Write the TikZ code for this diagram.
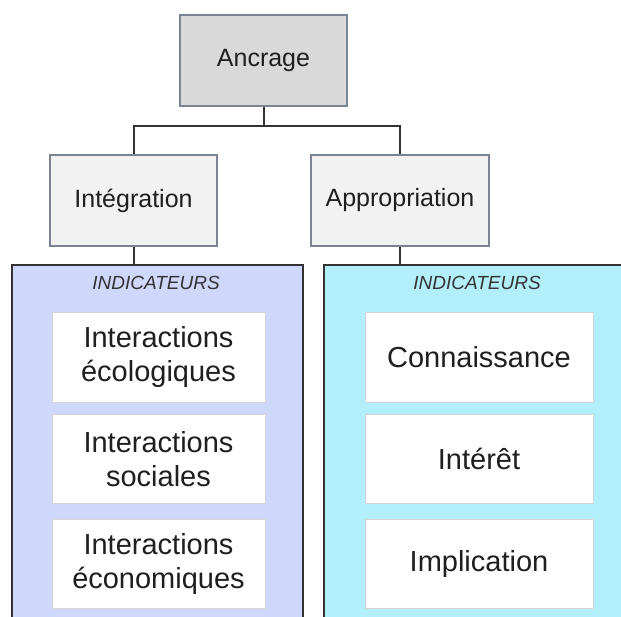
\documentclass[tikz,border=0pt]{standalone}
\usepackage{fontspec}
\setmainfont{Liberation Sans}
\definecolor{topfill}{HTML}{D9D9D9}
\definecolor{midfill}{HTML}{F2F2F2}
\definecolor{boxline}{HTML}{7A8494}
\definecolor{darkline}{HTML}{333333}
\definecolor{lavender}{HTML}{CFD8FA}
\definecolor{cyanfill}{HTML}{B3EFFA}
\definecolor{innerline}{HTML}{D6D6D6}
\begin{document}
\begin{tikzpicture}[x=1pt,y=-1pt,
  topbox/.style={draw=boxline,line width=1.5pt,minimum height=91pt,inner sep=0pt,font=\fontsize{25}{30}\selectfont,text=black!88},
  container/.style={draw=darkline,line width=1.8pt,inner sep=0pt},
  innerbox/.style={draw=innerline,fill=white,line width=1pt,minimum height=89pt,inner sep=0pt,align=center,font=\fontsize{29}{34}\selectfont,text=black!88},
  indic/.style={font=\itshape\fontsize{19}{22}\selectfont,text=darkline},
  conn/.style={draw=darkline,line width=2pt}]
\useasboundingbox (0,0) rectangle (621,617);
\clip (0,0) rectangle (621,617);
\fill[white] (0,0) rectangle (621,617);
% containers
\node[container,fill=lavender,minimum width=291pt,minimum height=400pt,anchor=north west] (lc) at (11,264) {};
\node[container,fill=cyanfill,minimum width=330pt,minimum height=400pt,anchor=north west] (rc) at (323,264) {};
% top boxes
\node[topbox,fill=topfill,minimum width=167pt] (anc) at (263.5,60.5) {Ancrage};
\node[topbox,fill=midfill,minimum width=167pt] (integ) at (133.5,200.5) {Intégration};
\node[topbox,fill=midfill,minimum width=178pt] (appr) at (400,200.5) {Appropriation};
% connectors
\coordinate (j) at (263.5,126);
\draw[conn] (anc.south) -- (j);
\draw[conn] (j) -| (integ.north);
\draw[conn] (j) -| (appr.north);
\draw[conn] (integ.south) -- (integ.south |- lc.north);
\draw[conn] (appr.south) -- (appr.south |- rc.north);
% indicator labels
\node[indic] (il) at (156,283) {INDICATEURS};
\node[indic] (ir) at (477,283) {INDICATEURS};
% inner boxes left
\node[innerbox,minimum width=213pt] (l1) at (158.5,357.5) {Interactions\\écologiques};
\node[innerbox,minimum width=213pt] (l2) at (158.5,459) {Interactions\\sociales};
\node[innerbox,minimum width=213pt] (l3) at (158.5,563.5) {Interactions\\économiques};
% inner boxes right
\node[innerbox,minimum width=228pt] (r1) at (479,357.5) {Connaissance};
\node[innerbox,minimum width=228pt] (r2) at (479,459) {Intérêt};
\node[innerbox,minimum width=228pt] (r3) at (479,563.5) {Implication};
\end{tikzpicture}
\end{document}
